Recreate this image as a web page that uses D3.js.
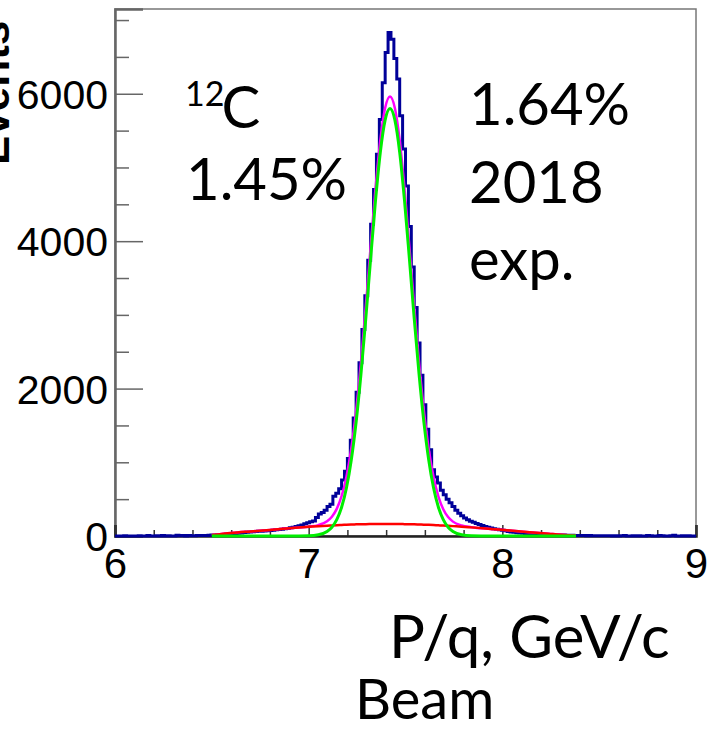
<!DOCTYPE html>
<html>
<head>
<meta charset="utf-8">
<script src="https://cdn.jsdelivr.net/npm/d3@7"></script>
<style>
  html, body { margin: 0; padding: 0; background: #fff; }
  svg { display: block; }
</style>
</head>
<body>
<svg id="chart" width="707" height="732"></svg>
<script>
// ---------------- data ----------------
const histRange = [6, 9];
const binWidth = 0.015;
const counts = [
  0,0,0,4,0,0,0,0,3,0,0,6,0,0,4,0,8,0,5,0,0,9,4,6,0,7,5,3,8,6,7,
  8,10,12,14,16,18,21,25,28,31,34,38,42,46,50,55,58,60,64,66,69,71,75,79,84,88,92,98,103,
  112,120,128,138,150,165,180,195,205,250,300,318,350,400,430,540,580,640,760,880,
  1050,1300,1600,1950,2350,2800,3260,3740,4230,4700,5180,5650,6150,6560,6830,
  6740,6480,6200,5700,5250,4750,4200,3650,3100,2620,2180,1780,1450,1170,900,800,720,620,
  560,500,450,400,350,310,275,245,220,200,185,170,155,142,130,120,110,100,92,85,78,70,62,55,50,
  45,40,36,33,30,27,25,22,20,18,17,16,15,14,14,13,12,11,10,9,8,8,7,
  6,5,6,4,5,3,4,3,2,3,0,4,0,2,6,0,0,3,0,5,0,0,8,2,0,0,6,3,0,0,4,9,0,0,3,0,5,0,0
];
const fitX = [6.50,6.60,6.70,6.80,6.90,7.00,7.05,7.095,7.12,7.145,7.17,7.195,7.22,7.245,7.27,7.295,7.32,7.345,7.37,7.395,7.42,
  7.445,7.47,7.495,7.52,7.545,7.57,7.595,7.62,7.645,7.67,7.695,7.72,7.745,7.79,7.84,7.94,8.04,8.14,8.24,8.34,8.38];
const signalY = [0,0,0,0,0,3,16,61,119,221,390,651,1031,1545,2195,2954,3766,4549,5207,5646,5800,
  5646,5207,4549,3766,2954,2195,1545,1031,651,390,221,119,61,16,3,0,0,0,0,0,0];
const backgroundY = [12,40,62,83,105,124,132,139,143,147,150,153,156,158,160,161,162,163,163,163,163,
  162,162,161,160,158,156,154,151,148,145,142,138,134,127,117,96,75,52,30,10,4];
const totalY = [12,40,62,83,105,127,148,200,262,368,540,804,1187,1703,2355,3115,3928,4712,5370,5809,5963,
  5808,5369,4710,3926,3112,2351,1699,1182,799,535,363,257,195,143,120,96,75,52,30,10,4];
const xTicks = [6, 7, 8, 9];
const xMinorStep = 0.2;
const yTicks = [0, 2000, 4000, 6000];
const yMinorStep = 500;
const yMax = 7150;

// ---------------- drawing ----------------
const svg = d3.select("#chart");
const L = 115, R = 696, T = 9, B = 536;
const x = d3.scaleLinear().domain(histRange).range([L, R]);
const y = d3.scaleLinear().domain([0, yMax]).range([B, T]);

const tickFont = "'Liberation Sans', Arial, sans-serif";
const textFont = "Lato, 'Open Sans', sans-serif";

// frame (top/right)
svg.append("rect").attr("x", L).attr("y", T).attr("width", R - L).attr("height", B - T)
  .attr("fill", "none").attr("stroke", "#777").attr("stroke-width", 1.5);

// y axis
const yMinor = d3.range(0, yMax, yMinorStep).filter(v => !yTicks.includes(v));
svg.append("g").attr("transform", `translate(${L},0)`)
  .call(d3.axisLeft(y).tickValues(yMinor).tickSize(-14).tickFormat(""))
  .call(g => g.select(".domain").remove())
  .call(g => g.selectAll("line").attr("stroke", "#666").attr("stroke-width", 1.5));
const yAx = svg.append("g").attr("transform", `translate(${L},0)`)
  .call(d3.axisLeft(y).tickValues(yTicks).tickSize(-28).tickPadding(7).tickFormat(d3.format("d")));
yAx.select(".domain").attr("stroke", "#666").attr("stroke-width", 2.5);
yAx.selectAll("line").attr("stroke", "#666").attr("stroke-width", 1.5);
yAx.selectAll("text").attr("font-family", tickFont).attr("font-size", 41).attr("fill", "#000")
  .attr("dy", "0.36em");

// x axis
const xMinor = d3.range(histRange[0], histRange[1] + 1e-9, xMinorStep).filter(v => !xTicks.some(t => Math.abs(t - v) < 1e-6));
svg.append("g").attr("transform", `translate(0,${B})`)
  .call(d3.axisBottom(x).tickValues(xMinor).tickSize(-6).tickFormat(""))
  .call(g => g.select(".domain").remove())
  .call(g => g.selectAll("line").attr("stroke", "#333").attr("stroke-width", 1.5));
const xAx = svg.append("g").attr("transform", `translate(0,${B})`)
  .call(d3.axisBottom(x).tickValues(xTicks).tickSize(-11).tickPadding(12).tickFormat(d3.format("d")));
xAx.select(".domain").attr("stroke", "#222").attr("stroke-width", 2.5);
xAx.selectAll("line").attr("stroke", "#333").attr("stroke-width", 1.5);
xAx.selectAll("text").attr("font-family", tickFont).attr("font-size", 42).attr("fill", "#000");

// histogram (drawn over the axis line, like the reference)
const edges = counts.map((c, i) => histRange[0] + i * binWidth);
const stepPts = counts.map((c, i) => [edges[i], c]);
stepPts.push([histRange[1], counts[counts.length - 1]]);
const histLine = d3.line().x(d => x(d[0])).y(d => y(d[1])).curve(d3.curveStepAfter);
svg.append("path").attr("d", histLine(stepPts)).attr("fill", "none")
  .attr("stroke", "#000099").attr("stroke-width", 3).attr("stroke-linejoin", "miter");

const fitLine = arr => d3.line().x((d, i) => x(fitX[i])).y(d => y(d)).curve(d3.curveMonotoneX)(arr);
svg.append("path").attr("d", fitLine(totalY)).attr("fill", "none").attr("stroke", "#ff00ff").attr("stroke-width", 2.5);
svg.append("path").attr("d", fitLine(backgroundY)).attr("fill", "none").attr("stroke", "#ff0000").attr("stroke-width", 2.5);
svg.append("path").attr("d", fitLine(signalY)).attr("fill", "none").attr("stroke", "#00ee00").attr("stroke-width", 3);

// axis titles
svg.append("text").attr("transform", "translate(9,165) rotate(-90)")
  .attr("font-family", tickFont).attr("font-size", 44).attr("font-weight", "bold")
  .attr("text-anchor", "start").text("Events");
svg.append("text").attr("x", 389).attr("y", 658).attr("font-family", textFont).attr("font-size", 60)
  .text("P/q, GeV/c");
svg.append("text").attr("x", 355).attr("y", 719).attr("font-family", textFont).attr("font-size", 56)
  .text("Beam");

// annotations
const iso = svg.append("text").attr("x", 185).attr("y", 128).attr("font-family", textFont).attr("font-size", 58);
iso.append("tspan").attr("font-size", 34).attr("dy", -22).text("12");
iso.append("tspan").attr("dy", 22).attr("dx", -3).text("C");
svg.append("text").attr("x", 186).attr("y", 200).attr("font-family", textFont).attr("font-size", 58).text("1.45%");
svg.append("text").attr("x", 469).attr("y", 125).attr("font-family", textFont).attr("font-size", 58).text("1.64%");
svg.append("text").attr("x", 469).attr("y", 203).attr("font-family", textFont).attr("font-size", 58).text("2018");
svg.append("text").attr("x", 469).attr("y", 280).attr("font-family", textFont).attr("font-size", 58).text("exp.");
</script>
</body>
</html>
